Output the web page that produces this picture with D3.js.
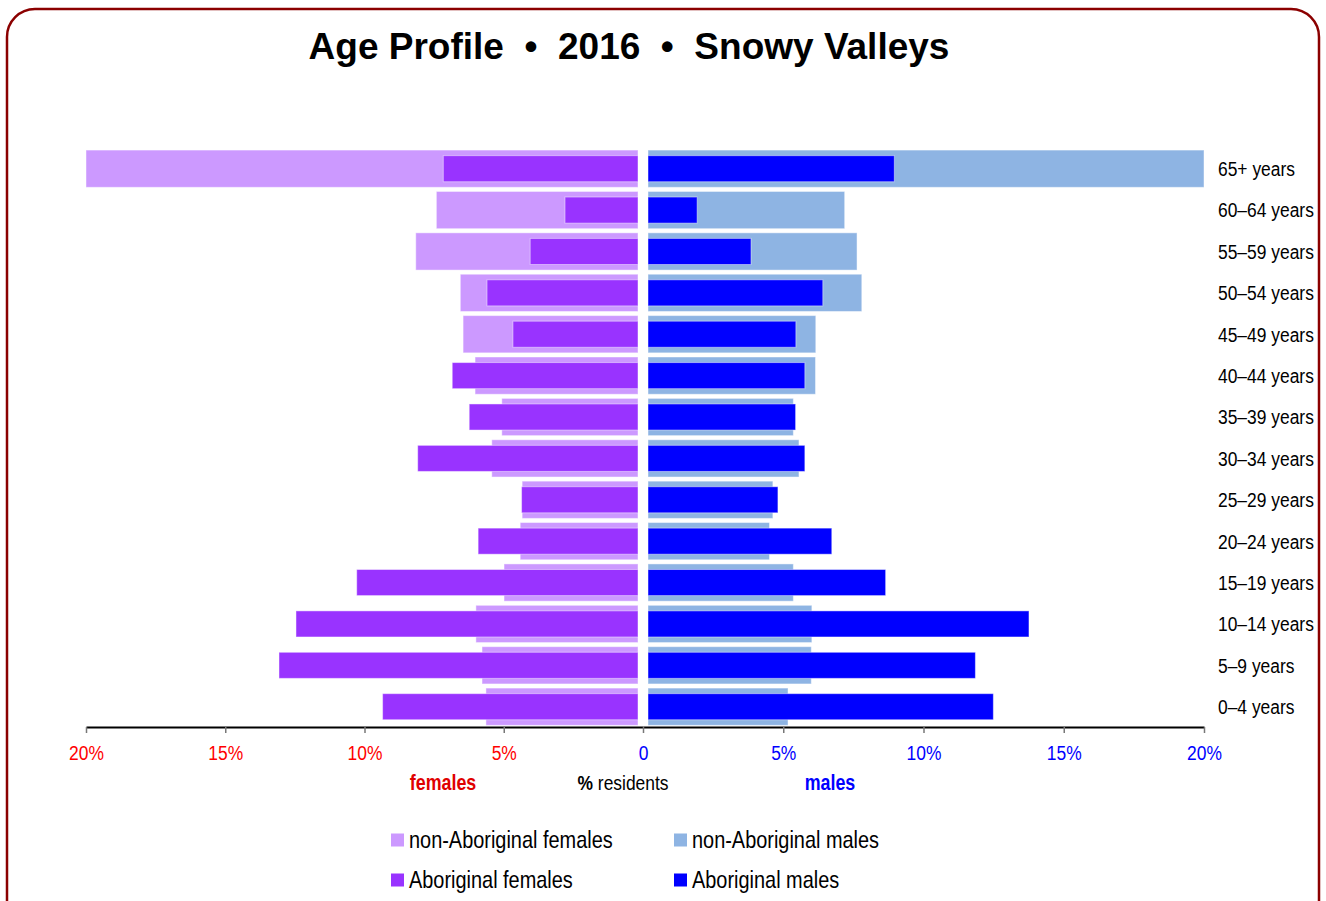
<!DOCTYPE html>
<html>
<head>
<meta charset="utf-8">
<script src="https://cdn.jsdelivr.net/npm/d3@7"></script>
<style>
  body { margin: 0; background: #fff; }
  svg text { font-family: "Liberation Sans", Arial, sans-serif; }
</style>
</head>
<body>
<div id="chart"></div>
<script>
// age groups, top row first
var categories = ["65+ years", "60–64 years", "55–59 years", "50–54 years", "45–49 years",
    "40–44 years", "35–39 years", "30–34 years", "25–29 years", "20–24 years",
    "15–19 years", "10–14 years", "5–9 years", "0–4 years"];

// % residents (65+ non-Aboriginal runs past the axis end and is clipped at 20%)
var nonAborigFemales = [23.7, 7.42, 8.16, 6.56, 6.46, 6.03, 5.07, 5.43, 4.34, 4.41, 4.99, 6.00, 5.78, 5.64];
var aborigFemales    = [7.17, 2.80, 4.05, 5.60, 4.67, 6.85, 6.24, 8.09, 4.36, 5.92, 10.28, 12.46, 13.07, 9.35];
var nonAborigMales   = [22.5, 7.19, 7.63, 7.80, 6.16, 6.15, 5.36, 5.56, 4.63, 4.51, 5.36, 6.02, 6.00, 5.17];
var aborigMales      = [8.96, 1.93, 3.85, 6.41, 5.45, 5.77, 5.44, 5.77, 4.81, 6.73, 8.65, 13.76, 11.85, 12.49];

var tickValues = [0, 5, 10, 15, 20];
var legendItems = ["non-Aboriginal females", "non-Aboriginal males", "Aboriginal females", "Aboriginal males"];
var legendColors = ["#cc99ff", "#8eb4e3", "#9933ff", "#0000ff"];

// no narrow font installed, so squeeze the regular one sideways
var NARROW = 0.83;

function Chart() {
    var self = this;
    this.width = 1326;
    this.height = 901;
    this.mid = 643;
    this.gap = 5;
    this.svg = d3.select("#chart").append("svg").attr("width", this.width).attr("height", this.height);

    this.xLeft = d3.scaleLinear().domain([0, 20]).range([this.mid, 86]).clamp(true);
    this.xRight = d3.scaleLinear().domain([0, 20]).range([this.mid, 1204]).clamp(true);
    this.y = d3.scaleBand().domain(categories).range([148, 727.4]).paddingInner(0.1).paddingOuter(0.05);

    // text placed at (x, y) with a narrowed look
    this.label = function (parent, x, y, anchor) {
        return parent.append("text")
            .attr("transform", "translate(" + x + "," + y + ") scale(" + NARROW + ",1)")
            .attr("text-anchor", anchor || "start");
    };

    this.frame = function () {
        self.svg.append("rect")
            .attr("x", 7).attr("y", 9)
            .attr("width", 1312).attr("height", 930)
            .attr("rx", 28).attr("ry", 28)
            .attr("fill", "none")
            .attr("stroke", "#8b0000")
            .attr("stroke-width", 2.5);
        self.svg.append("text")
            .attr("x", 629).attr("y", 59)
            .attr("text-anchor", "middle")
            .attr("font-weight", "bold")
            .attr("font-size", "37px")
            .attr("fill", "#000")
            .attr("xml:space", "preserve")
            .text("Age Profile  •  2016  •  Snowy Valleys");
    };

    this.bars = function () {
        var bw = self.y.bandwidth();
        var inner = bw * 0.7;
        var rows = categories.map(function (c, i) {
            return { cat: c, nf: nonAborigFemales[i], af: aborigFemales[i], nm: nonAborigMales[i], am: aborigMales[i] };
        });
        var g = self.svg.append("g");

        function side(key, scale, color, h, left) {
            g.selectAll(null).data(rows).enter().append("rect")
                .attr("x", function (d) { return left ? scale(d[key]) : self.mid + self.gap; })
                .attr("y", function (d) { return self.y(d.cat) + (bw - h) / 2; })
                .attr("width", function (d) {
                    return left ? (self.mid - self.gap) - scale(d[key]) : scale(d[key]) - (self.mid + self.gap);
                })
                .attr("height", h)
                .attr("fill", color)
                .attr("stroke", "#ffffff")
                .attr("stroke-opacity", 0.45)
                .attr("stroke-width", 1);
        }
        side("nf", self.xLeft, "#cc99ff", bw, true);
        side("af", self.xLeft, "#9933ff", inner, true);
        side("nm", self.xRight, "#8eb4e3", bw, false);
        side("am", self.xRight, "#0000ff", inner, false);

        var lg = self.svg.append("g");
        categories.forEach(function (c) {
            self.label(lg, 1218, self.y(c) + bw / 2)
                .attr("dy", "0.35em")
                .attr("font-size", "21px")
                .attr("fill", "#000")
                .text(c);
        });
    };

    this.axes = function () {
        var left = self.svg.append("g").attr("transform", "translate(0,727)")
            .call(d3.axisBottom(self.xLeft).tickValues(tickValues.slice(1))
                .tickFormat(function (d) { return d + "%"; })
                .tickSize(6).tickSizeOuter(0).tickPadding(12));
        var right = self.svg.append("g").attr("transform", "translate(0,727)")
            .call(d3.axisBottom(self.xRight).tickValues(tickValues)
                .tickFormat(function (d) { return d === 0 ? "0" : d + "%"; })
                .tickSize(6).tickSizeOuter(0).tickPadding(12));
        [left, right].forEach(function (a) {
            a.select(".domain").attr("stroke", "#000").attr("stroke-width", 2);
            a.selectAll(".tick line").attr("stroke", "#777").attr("stroke-width", 1.5);
            a.selectAll(".tick text").attr("font-size", "21px")
                .attr("transform", "scale(" + NARROW + ",1)")
                .style("font-family", "'Liberation Sans', Arial, sans-serif");
        });
        left.selectAll(".tick text").attr("fill", "#ff0000");
        right.selectAll(".tick text").attr("fill", "#0000ff");

        self.label(self.svg, 443, 790, "middle")
            .attr("font-size", "21.5px").attr("font-weight", "bold").attr("fill", "#e00000").text("females");
        var t = self.label(self.svg, 623, 790, "middle")
            .attr("font-size", "21px").attr("fill", "#000");
        t.append("tspan").attr("font-weight", "bold").text("%");
        t.append("tspan").text(" residents");
        self.label(self.svg, 830, 790, "middle")
            .attr("font-size", "21.5px").attr("font-weight", "bold").attr("fill", "#0000ff").text("males");
    };

    this.legend = function () {
        legendItems.forEach(function (d, i) {
            var x = i % 2 === 0 ? 391 : 674;
            var y = i < 2 ? 840 : 880;
            self.svg.append("rect")
                .attr("x", x).attr("y", y - 6.5).attr("width", 13).attr("height", 13)
                .attr("fill", legendColors[i]);
            self.label(self.svg, x + 18, y)
                .attr("dy", "0.35em")
                .attr("font-size", "24px").attr("fill", "#000")
                .text(d);
        });
    };

    this.frame();
    this.bars();
    this.axes();
    this.legend();
}

document.addEventListener("DOMContentLoaded", function () {
    new Chart();
});
</script>
</body>
</html>
